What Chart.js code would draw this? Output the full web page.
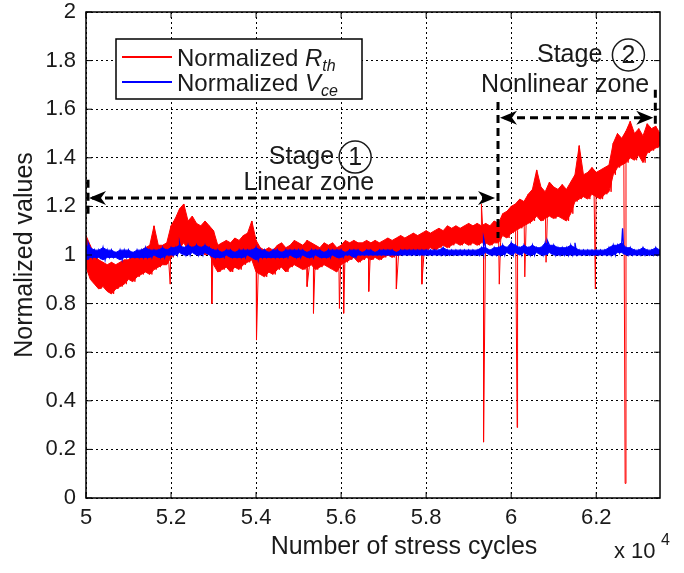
<!DOCTYPE html>
<html>
<head>
<meta charset="utf-8">
<script src="https://cdn.jsdelivr.net/npm/chart.js@4"></script>
<style>
  html, body { margin: 0; padding: 0; background: #fff; }
  canvas { display: block; }
</style>
</head>
<body>
<canvas id="chart" width="684" height="573"></canvas>
<script>
// x in units of 10^4 stress cycles, one sample pair every 0.01
const cycleStart = 5
const cycleStep = 0.01
const xTicks = [5, 5.2, 5.4, 5.6, 5.8, 6, 6.2]
const yTicks = [0, 0.2, 0.4, 0.6, 0.8, 1, 1.2, 1.4, 1.6, 1.8, 2]

// normalized Rth: upper / lower edge of the noisy band
const rthHigh = [
  1.08, 1.04, 1.00, 0.98, 0.97, 0.96, 0.97, 0.96, 0.97, 0.98,
  0.98, 1.00, 0.99, 1.02, 1.03, 1.04, 1.12, 1.04, 1.04, 1.05,
  1.12, 1.15, 1.19, 1.21, 1.14, 1.16, 1.13, 1.12, 1.14, 1.12,
  1.10, 1.04, 1.05, 1.06, 1.05, 1.07, 1.06, 1.08, 1.09, 1.14,
  1.06, 1.03, 1.02, 1.03, 1.02, 1.04, 1.05, 1.03, 1.04, 1.06,
  1.05, 1.04, 1.06, 1.05, 1.04, 1.03, 1.05, 1.04, 1.05, 1.03,
  1.04, 1.06, 1.05, 1.06, 1.05, 1.05, 1.06, 1.05, 1.06, 1.05,
  1.06, 1.07, 1.06, 1.07, 1.08, 1.07, 1.08, 1.09, 1.08, 1.09,
  1.10, 1.09, 1.10, 1.11, 1.10, 1.12, 1.11, 1.12, 1.11, 1.12,
  1.13, 1.12, 1.13, 1.12, 1.13, 1.12, 1.14, 1.13, 1.17, 1.18,
  1.20, 1.21, 1.23, 1.22, 1.25, 1.27, 1.35, 1.28, 1.26, 1.30,
  1.28, 1.27, 1.29, 1.27, 1.30, 1.33, 1.45, 1.33, 1.34, 1.36,
  1.34, 1.35, 1.36, 1.37, 1.46, 1.50, 1.48, 1.51, 1.55, 1.50,
  1.52, 1.49, 1.54, 1.52, 1.53, 1.50,
]
const rthLow = [
  0.95, 0.90, 0.88, 0.86, 0.87, 0.85, 0.84, 0.86, 0.87, 0.88,
  0.90, 0.89, 0.91, 0.92, 0.93, 0.92, 0.94, 0.95, 0.96, 0.96,
  0.99, 1.01, 1.03, 1.05, 1.02, 1.03, 1.01, 1.02, 1.00, 1.01,
  0.96, 0.93, 0.94, 0.95, 0.93, 0.95, 0.94, 0.96, 0.97, 0.98,
  0.93, 0.92, 0.91, 0.93, 0.92, 0.94, 0.95, 0.93, 0.95, 0.96,
  0.95, 0.94, 0.95, 0.96, 0.94, 0.95, 0.96, 0.95, 0.94, 0.93,
  0.96, 0.97, 0.98, 0.99, 0.97, 0.98, 0.99, 0.98, 0.99, 0.98,
  0.99, 1.00, 0.99, 1.00, 1.00, 1.01, 1.00, 1.01, 1.02, 1.01,
  1.02, 1.03, 1.02, 1.03, 1.04, 1.03, 1.04, 1.05, 1.04, 1.05,
  1.04, 1.05, 1.04, 1.05, 1.05, 1.04, 1.05, 1.05, 1.08, 1.07,
  1.09, 1.10, 1.11, 1.12, 1.13, 1.14, 1.16, 1.14, 1.15, 1.16,
  1.15, 1.16, 1.15, 1.14, 1.17, 1.22, 1.23, 1.24, 1.23, 1.25,
  1.24, 1.23, 1.25, 1.26, 1.33, 1.36, 1.37, 1.38, 1.40, 1.39,
  1.41, 1.38, 1.42, 1.43, 1.44, 1.45,
]
// isolated drop-outs / peaks [cycles, value]
const rthSpikes = [
  [5.198, 0.88], [5.296, 0.80], [5.401, 0.65], [5.52, 0.87], [5.535, 0.76],
  [5.596, 0.78], [5.606, 0.76], [5.665, 0.85], [5.73, 0.86], [5.79, 0.88],
  [5.93, 1.21], [5.935, 0.23], [5.972, 0.88], [6.014, 0.29], [6.032, 0.91],
  [6.082, 0.97], [6.198, 0.86], [6.268, 0.06],
]

// normalized Vce
const vceHigh = [
  1.04, 1.03, 1.02, 1.02, 1.03, 1.02, 1.02, 1.01, 1.02, 1.02,
  1.02, 1.01, 1.02, 1.02, 1.03, 1.02, 1.02, 1.02, 1.03, 1.02,
  1.03, 1.03, 1.04, 1.03, 1.04, 1.03, 1.04, 1.03, 1.04, 1.03,
  1.02, 1.02, 1.01, 1.02, 1.02, 1.01, 1.02, 1.02, 1.02, 1.02,
  1.03, 1.02, 1.02, 1.01, 1.02, 1.02, 1.01, 1.02, 1.02, 1.02,
  1.02, 1.02, 1.01, 1.02, 1.02, 1.02, 1.01, 1.02, 1.02, 1.02,
  1.02, 1.01, 1.02, 1.02, 1.02, 1.01, 1.02, 1.02, 1.01, 1.02,
  1.02, 1.02, 1.02, 1.01, 1.02, 1.02, 1.02, 1.02, 1.02, 1.02,
  1.02, 1.02, 1.02, 1.02, 1.03, 1.02, 1.02, 1.02, 1.02, 1.02,
  1.02, 1.02, 1.02, 1.03, 1.03, 1.02, 1.03, 1.03, 1.04, 1.03,
  1.05, 1.04, 1.03, 1.04, 1.03, 1.04, 1.03, 1.03, 1.05, 1.04,
  1.04, 1.03, 1.03, 1.03, 1.04, 1.03, 1.02, 1.02, 1.02, 1.02,
  1.02, 1.02, 1.02, 1.03, 1.04, 1.04, 1.05, 1.03, 1.03, 1.02,
  1.02, 1.03, 1.02, 1.02, 1.03, 1.02,
]
const vceLow = [
  0.98, 0.99, 0.99, 0.99, 0.98, 0.99, 0.99, 0.99, 0.98, 0.99,
  0.99, 0.99, 0.99, 0.99, 0.99, 0.99, 1.00, 0.99, 0.99, 1.00,
  1.00, 1.00, 1.01, 1.00, 1.00, 1.01, 1.00, 1.00, 1.01, 1.00,
  0.99, 0.99, 0.99, 1.00, 0.99, 0.99, 0.99, 0.99, 1.00, 0.99,
  0.98, 0.99, 0.99, 0.99, 0.99, 0.99, 0.99, 0.99, 1.00, 0.99,
  0.99, 1.00, 0.99, 0.99, 1.00, 0.99, 0.99, 0.99, 1.00, 0.99,
  0.99, 1.00, 1.00, 0.99, 1.00, 1.00, 1.00, 1.00, 1.00, 1.00,
  1.00, 1.00, 1.00, 1.00, 1.00, 1.00, 1.00, 1.00, 1.00, 1.00,
  1.00, 1.00, 1.00, 1.00, 1.00, 1.00, 1.00, 1.00, 1.00, 1.00,
  1.00, 1.00, 1.00, 1.00, 1.01, 1.00, 1.00, 1.00, 1.00, 1.01,
  1.00, 1.01, 1.00, 1.01, 1.00, 1.00, 1.01, 1.00, 1.00, 1.01,
  1.00, 1.00, 1.00, 1.00, 1.00, 1.00, 1.00, 1.00, 1.00, 1.00,
  1.00, 1.00, 1.00, 1.00, 1.00, 1.01, 1.01, 1.00, 1.00, 1.00,
  1.00, 1.00, 1.00, 1.00, 1.00, 1.00,
]
const vceSpikes = [
  [5.005, 1.05], [5.22, 1.05], [5.935, 1.07], [6.0, 1.05], [6.085, 1.06],
  [6.15, 1.05], [6.262, 1.11],
]

const FONT = "'Liberation Sans', Arial, Helvetica, sans-serif"

// one band edge as points
const edge = (vals, shift) => vals.map((y, i) => ({ x: cycleStart + i * cycleStep + shift, y }))

// zig-zag between the two edges, then drop the spikes in at their x
const toPoints = (high, low, spikes) => {
  const pts = [...edge(high, 0), ...edge(low, cycleStep / 2)]
  spikes.forEach(([x, y]) => pts.push({ x, y }))
  return pts.sort((a, b) => a.x - b.x)
}

const band = (vals, color, fill, order) => ({
  data: edge(vals, 0),
  borderColor: color,
  backgroundColor: color,
  borderWidth: 1,
  pointRadius: 0,
  tension: 0,
  fill,
  order,
})

const overlay = {
  id: 'overlay',
  afterDraw(chart) {
    const { ctx, chartArea: a, scales } = chart
    const X = v => scales.x.getPixelForValue(v)
    const Y = v => scales.y.getPixelForValue(v)
    ctx.save()

    // inward ticks on all four sides
    ctx.strokeStyle = '#000'
    ctx.lineWidth = 1
    ctx.beginPath()
    xTicks.forEach(v => {
      ctx.moveTo(X(v), a.bottom); ctx.lineTo(X(v), a.bottom - 6)
      ctx.moveTo(X(v), a.top); ctx.lineTo(X(v), a.top + 6)
    })
    yTicks.forEach(v => {
      ctx.moveTo(a.left, Y(v)); ctx.lineTo(a.left + 6, Y(v))
      ctx.moveTo(a.right, Y(v)); ctx.lineTo(a.right - 6, Y(v))
    })
    ctx.stroke()

    // axes box
    ctx.lineWidth = 1.5
    ctx.strokeRect(a.left, a.top, a.right - a.left, a.bottom - a.top)

    // dashed stage markers
    const dashed = (x1, y1, x2, y2) => {
      ctx.save()
      ctx.lineWidth = 3
      ctx.setLineDash([8, 5])
      ctx.beginPath()
      ctx.moveTo(x1, y1)
      ctx.lineTo(x2, y2)
      ctx.stroke()
      ctx.restore()
    }
    const head = (tx, ty, dir) => {
      ctx.beginPath()
      ctx.moveTo(tx, ty)
      ctx.lineTo(tx - dir * 17, ty - 7)
      ctx.lineTo(tx - dir * 12, ty)
      ctx.lineTo(tx - dir * 17, ty + 7)
      ctx.closePath()
      ctx.fill()
    }
    ctx.fillStyle = '#000'
    ctx.strokeStyle = '#000'
    // stage 1
    dashed(X(5) + 2, Y(1.31), X(5) + 2, Y(1.16))
    dashed(X(5) + 6, Y(1.235), X(5.962) - 6, Y(1.235))
    head(X(5) + 3, Y(1.235), -1)
    head(X(5.962), Y(1.235), 1)
    // boundary
    dashed(X(5.969), Y(1.63), X(5.969), Y(1.07))
    // stage 2
    dashed(X(5.969) + 6, Y(1.565), X(6.339) - 6, Y(1.565))
    head(X(5.969) + 2, Y(1.565), -1)
    head(X(6.339) - 2, Y(1.565), 1)
    dashed(X(6.339), Y(1.68), X(6.339), Y(1.54))

    // stage labels
    ctx.fillStyle = '#1a1a1a'
    ctx.strokeStyle = '#1a1a1a'
    ctx.font = `25px ${FONT}`
    ctx.textBaseline = 'middle'
    const circled = (cx, cy, n) => {
      ctx.lineWidth = 1.5
      ctx.beginPath()
      ctx.arc(cx, cy, 16, 0, Math.PI * 2)
      ctx.stroke()
      ctx.textAlign = 'center'
      ctx.fillText(n, cx, cy + 1)
    }
    ctx.textAlign = 'right'
    ctx.fillText('Stage', X(5.5835), Y(1.403))
    circled(X(5.633), Y(1.403), '1')
    ctx.textAlign = 'center'
    ctx.fillText('Linear zone', X(5.524), Y(1.296))
    ctx.textAlign = 'right'
    ctx.fillText('Stage', X(6.2143), Y(1.823))
    circled(X(6.2757), Y(1.823), '2')
    ctx.textAlign = 'center'
    ctx.fillText('Nonlinear zone', X(6.127), Y(1.70))

    // legend
    const lx = 116, ly = 39, lw = 246, lh = 60
    ctx.fillStyle = '#fff'
    ctx.fillRect(lx, ly, lw, lh)
    ctx.strokeStyle = '#000'
    ctx.lineWidth = 1.5
    ctx.strokeRect(lx, ly, lw, lh)
    const entry = (cy, color, sym, sub) => {
      ctx.strokeStyle = color
      ctx.lineWidth = 2
      ctx.beginPath()
      ctx.moveTo(lx + 6, cy)
      ctx.lineTo(lx + 56, cy)
      ctx.stroke()
      ctx.fillStyle = '#1a1a1a'
      ctx.textAlign = 'left'
      ctx.textBaseline = 'alphabetic'
      ctx.font = `24px ${FONT}`
      let tx = lx + 61
      const base = cy + 9
      ctx.fillText('Normalized ', tx, base)
      tx += ctx.measureText('Normalized ').width
      ctx.font = `italic 24px ${FONT}`
      ctx.fillText(sym, tx, base)
      tx += ctx.measureText(sym).width
      ctx.font = `italic 16px ${FONT}`
      ctx.fillText(sub, tx, base + 5)
    }
    entry(57, '#ff0000', 'R', 'th')
    entry(82, '#0000ff', 'V', 'ce')

    // x axis title and exponent
    ctx.fillStyle = '#1a1a1a'
    ctx.textAlign = 'center'
    ctx.textBaseline = 'middle'
    ctx.font = `25px ${FONT}`
    ctx.fillText('Number of stress cycles', 404, 547)
    ctx.textAlign = 'left'
    ctx.textBaseline = 'alphabetic'
    ctx.font = `22px ${FONT}`
    ctx.fillText('x 10', 614, 558)
    ctx.font = `16px ${FONT}`
    ctx.fillText('4', 661, 545)

    ctx.restore()
  },
}

new Chart(document.getElementById('chart'), {
  type: 'line',
  data: {
    datasets: [
      band(rthHigh, '#ff0000', false, 3),
      band(rthLow, '#ff0000', '-1', 3),
      {
        label: 'Normalized Rth',
        data: toPoints(rthHigh, rthLow, rthSpikes),
        borderColor: '#ff0000',
        borderWidth: 1,
        pointRadius: 0,
        tension: 0,
        order: 2,
      },
      band(vceHigh, '#0000ff', false, 1),
      band(vceLow, '#0000ff', '-1', 1),
      {
        label: 'Normalized Vce',
        data: toPoints(vceHigh, vceLow, vceSpikes),
        borderColor: '#0000ff',
        borderWidth: 1.3,
        pointRadius: 0,
        tension: 0,
        order: 0,
      },
    ],
  },
  options: {
    responsive: false,
    devicePixelRatio: 1,
    animation: false,
    layout: { padding: { left: 0, top: 12, right: 24, bottom: 0 } },
    plugins: {
      legend: { display: false },
      tooltip: { enabled: false },
    },
    scales: {
      x: {
        type: 'linear',
        min: 5,
        max: 6.35,
        afterBuildTicks: s => { s.ticks = xTicks.map(value => ({ value })) },
        afterFit: s => { s.height = 75; s.paddingLeft = 0; s.paddingRight = 0 },
        ticks: { color: '#1a1a1a', padding: 7, font: { size: 22, family: FONT }, maxRotation: 0, callback: v => String(v) },
        grid: { color: '#000', lineWidth: 1, drawTicks: false },
        border: { display: false, dash: [2, 3] },
      },
      y: {
        min: 0,
        max: 2,
        afterBuildTicks: s => { s.ticks = yTicks.map(value => ({ value })) },
        afterFit: s => { s.width = 86; s.paddingTop = 0; s.paddingBottom = 0 },
        ticks: { color: '#1a1a1a', padding: 10, font: { size: 22, family: FONT }, callback: v => String(v) },
        grid: { color: '#000', lineWidth: 1, drawTicks: false },
        border: { display: false, dash: [2, 3] },
        title: {
          display: true,
          text: 'Normalized values',
          color: '#1a1a1a',
          font: { size: 25, family: FONT },
          padding: { top: 10, bottom: 0 },
        },
      },
    },
  },
  plugins: [overlay],
})
</script>
</body>
</html>
